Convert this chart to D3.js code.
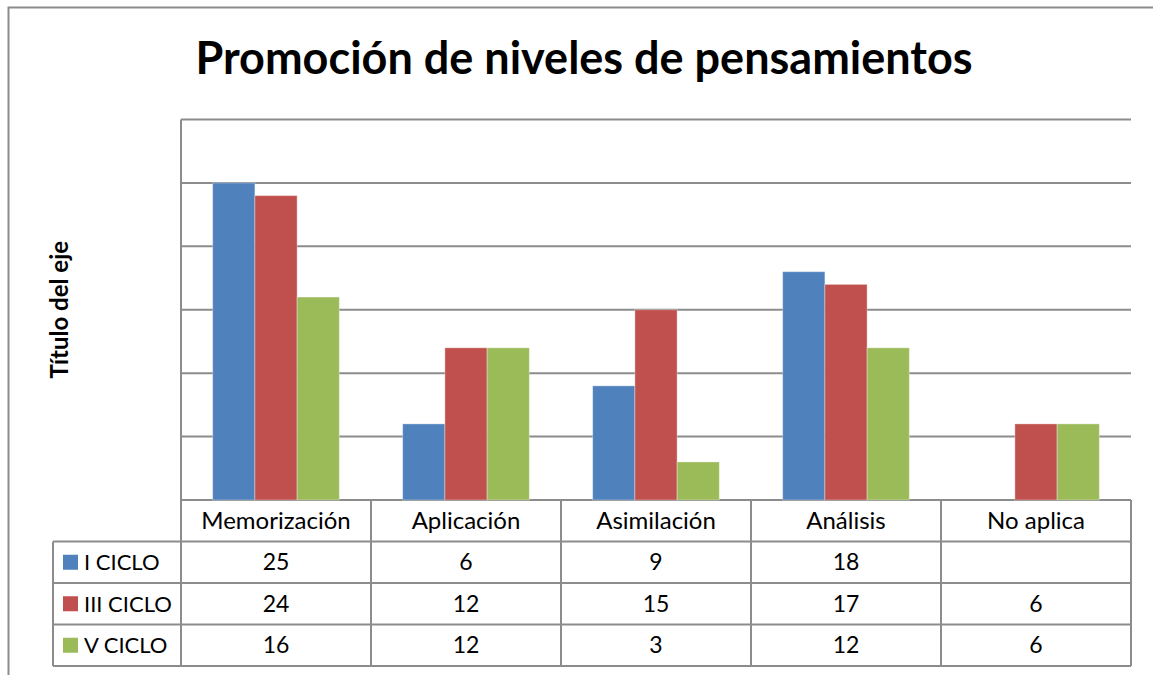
<!DOCTYPE html>
<html>
<head>
<meta charset="utf-8">
<script src="https://cdn.jsdelivr.net/npm/d3@7"></script>
<style>
  html, body { margin: 0; padding: 0; background: #fff; }
  svg { display: block; font-family: Lato, "Noto Sans", sans-serif; }
</style>
</head>
<body>
<svg id="chart" width="1153" height="675"></svg>
<script>
const categories = ["Memorización", "Aplicación", "Asimilación", "Análisis", "No aplica"];
const seriesNames = ["I CICLO", "III CICLO", "V CICLO"];
const iCiclo = [25, 6, 9, 18, null];
const iiiCiclo = [24, 12, 15, 17, 6];
const vCiclo = [16, 12, 3, 12, 6];
const colors = ["#4F81BD", "#C0504D", "#9BBB59"];
const yTicks = [0, 5, 10, 15, 20, 25, 30];

const series = [iCiclo, iiiCiclo, vCiclo];

const svg = d3.select('#chart');
const grid = '#8c8c8c';

// plot area
const plotLeft = 181, plotRight = 1131, plotTop = 119.5, plotBase = 500;
const rowH = 41.5;
const legendLeft = 53;

// outer chart border (runs off the right and bottom)
svg.append('path')
    .attr('d', `M8.5,700 V7.5 H1160`)
    .attr('fill', 'none')
    .attr('stroke', grid)
    .attr('stroke-width', 2);

// title
svg.append('text')
    .attr('x', 584)
    .attr('y', 74)
    .attr('text-anchor', 'middle')
    .style('font-size', '45px')
    .style('font-weight', 'bold')
    .text('Promoción de niveles de pensamientos');

// axis title
svg.append('text')
    .attr('transform', `translate(68,${(plotTop + plotBase) / 2}) rotate(-90)`)
    .attr('text-anchor', 'middle')
    .style('font-size', '24px')
    .style('font-weight', 'bold')
    .text('Título del eje');

const y = d3.scaleLinear().domain([0, 30]).range([plotBase, plotTop]);

const x = d3.scaleBand()
    .domain(categories)
    .range([plotLeft, plotRight])
    .paddingInner(1 / 3)
    .paddingOuter(1 / 6);

const xCol = d3.scaleBand()
    .domain(categories)
    .range([plotLeft, plotRight]);

const xSeries = d3.scaleBand()
    .domain(seriesNames)
    .range([0, x.bandwidth()]);

// gridlines
svg.append('g')
    .selectAll('line')
    .data(yTicks)
    .enter().append('line')
    .attr('x1', plotLeft)
    .attr('x2', plotRight)
    .attr('y1', d => y(d))
    .attr('y2', d => y(d))
    .attr('stroke', grid)
    .attr('stroke-width', 2);

// left axis line
svg.append('line')
    .attr('x1', plotLeft).attr('x2', plotLeft)
    .attr('y1', plotTop).attr('y2', plotBase + rowH * 4)
    .attr('stroke', grid)
    .attr('stroke-width', 2);

// bars
const barData = [];
series.forEach((vals, si) => {
    vals.forEach((v, ci) => {
        if (v != null) barData.push({ s: seriesNames[si], c: categories[ci], v, color: colors[si] });
    });
});

svg.append('g')
    .selectAll('rect')
    .data(barData)
    .enter().append('rect')
    .attr('x', d => x(d.c) + xSeries(d.s))
    .attr('y', d => y(d.v))
    .attr('width', xSeries.bandwidth())
    .attr('height', d => plotBase - y(d.v))
    .attr('fill', d => d.color)
    .attr('stroke', 'rgba(255,255,255,0.35)')
    .attr('stroke-width', 1);

// data table
const table = svg.append('g');

// horizontal lines
[1, 2, 3, 4].forEach(i => {
    table.append('line')
        .attr('x1', legendLeft).attr('x2', plotRight)
        .attr('y1', plotBase + rowH * i).attr('y2', plotBase + rowH * i)
        .attr('stroke', grid).attr('stroke-width', 2);
});
table.append('line')
    .attr('x1', legendLeft).attr('x2', legendLeft)
    .attr('y1', plotBase + rowH).attr('y2', plotBase + rowH * 4)
    .attr('stroke', grid).attr('stroke-width', 2);

// column separators
table.selectAll('line.col')
    .data(categories)
    .enter().append('line')
    .attr('class', 'col')
    .attr('x1', d => xCol(d) + xCol.bandwidth())
    .attr('x2', d => xCol(d) + xCol.bandwidth())
    .attr('y1', plotBase).attr('y2', plotBase + rowH * 4)
    .attr('stroke', grid).attr('stroke-width', 2);

// header labels
table.selectAll('text.cat')
    .data(categories)
    .enter().append('text')
    .attr('class', 'cat')
    .attr('x', d => xCol(d) + xCol.bandwidth() / 2)
    .attr('y', plotBase + rowH / 2 + 8)
    .attr('text-anchor', 'middle')
    .style('font-size', '24px')
    .text(d => d);

// legend + values
series.forEach((vals, si) => {
    const rowY = plotBase + rowH * (si + 1);
    table.append('rect')
        .attr('x', 63).attr('y', rowY + rowH / 2 - 7.5)
        .attr('width', 15).attr('height', 15)
        .attr('fill', colors[si]);
    table.append('text')
        .attr('x', 84)
        .attr('y', rowY + rowH / 2 + 8)
        .style('font-size', '22px')
        .text(seriesNames[si]);
    table.selectAll(null)
        .data(vals.map((v, ci) => ({ v, c: categories[ci] })).filter(d => d.v != null))
        .enter().append('text')
        .attr('x', d => xCol(d.c) + xCol.bandwidth() / 2)
        .attr('y', rowY + rowH / 2 + 8)
        .attr('text-anchor', 'middle')
        .style('font-size', '23px')
        .text(d => d.v);
});
</script>
</body>
</html>
